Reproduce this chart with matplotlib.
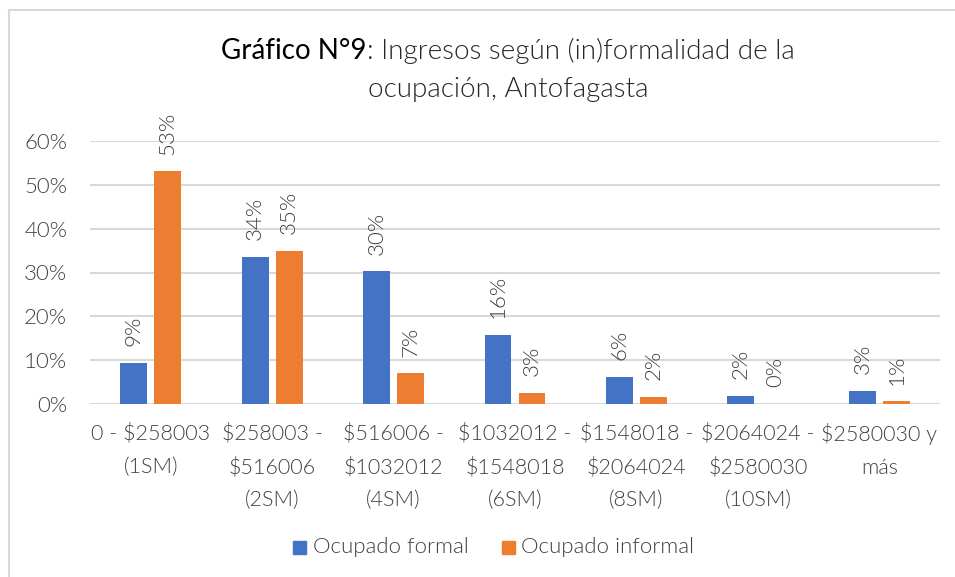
import matplotlib
matplotlib.use("Agg")
import matplotlib.pyplot as plt
import numpy as np
from matplotlib.lines import Line2D
from matplotlib.patches import Rectangle

categories = ["0 - $258003\n(1SM)", "$258003 -\n$516006\n(2SM)", "$516006 -\n$1032012\n(4SM)",
              "$1032012 -\n$1548018\n(6SM)", "$1548018 -\n$2064024\n(8SM)",
              "$2064024 -\n$2580030\n(10SM)", "$2580030 y\nmás"]
formal = [9.4, 33.6, 30.3, 15.8, 6.2, 1.8, 3.0]
informal = [53.1, 34.9, 7.0, 2.6, 1.7, 0.1, 0.6]
series_names = ["Ocupado formal", "Ocupado informal"]
yticks = [0, 10, 20, 30, 40, 50, 60]

BLUE = "#4472C4"
ORANGE = "#ED7D31"
GRID = "#D9D9D9"
TXT = "#404040"
FONT = "Lato"
FS = 16
XFS = 15.5
LW = 300

plt.rcParams['font.family'] = [FONT, 'DejaVu Sans']

W, H = 955, 577
fig = plt.figure(figsize=(W/100, H/100), dpi=100)
ax = fig.add_axes([90/W, 1-404/H, 850/W, 263/H])

x = np.arange(len(categories))
bw = 0.222
off = 0.14
b1 = ax.bar(x - off, formal, bw, color=BLUE, zorder=3)
b2 = ax.bar(x + off, informal, bw, color=ORANGE, zorder=3)

for bars, vals in ((b1, formal), (b2, informal)):
    for rect, v in zip(bars, vals):
        ax.annotate(f"{v:.0f}%", (rect.get_x() + rect.get_width()/2, v),
                    xytext=(0, 12), textcoords="offset points", rotation=90,
                    ha="center", va="bottom", fontsize=FS, color=TXT,
                    fontweight=LW)

ax.set_xlim(-0.5, len(categories) - 0.5)
ax.set_ylim(0, 60)
ax.set_yticks(yticks)
ax.set_yticklabels([f"{t}%" for t in yticks])
ax.set_xticks(x)
ax.set_xticklabels(categories, linespacing=1.8)
ax.tick_params(axis="both", length=0, labelsize=FS, labelcolor=TXT)
ax.tick_params(axis="x", labelsize=XFS, pad=14)
ax.tick_params(axis="y", pad=16.5)
for lab in ax.get_xticklabels() + ax.get_yticklabels():
    lab.set_fontweight(LW)
ax.grid(axis="y", color=GRID, linewidth=1.5, zorder=0)
for s in ax.spines.values():
    s.set_visible(False)
ax.set_axisbelow(True)

# outer chart border (top and left visible)
fig.add_artist(Line2D([8.5/W, 8.5/W], [0, 1-10/H], color=GRID, lw=1.5, transform=fig.transFigure))
fig.add_artist(Line2D([8.5/W, 1], [1-10/H, 1-10/H], color=GRID, lw=1.5, transform=fig.transFigure))

# title with mixed styles
renderer = fig.canvas.get_renderer()
TFS = 20
p1 = fig.text(0, 1-51/H, "Gráfico N°9", fontsize=TFS, color="black", va="center", ha="left")
p2 = fig.text(0, 1-51/H, ": Ingresos según (in)formalidad de la", fontsize=TFS, color="#262626",
              fontweight=LW, va="center", ha="left")
w1 = p1.get_window_extent(renderer).width
w2 = p2.get_window_extent(renderer).width
start = 508 - (w1 + w2) / 2
p1.set_x(start / W)
p2.set_x((start + w1) / W)
fig.text(508/W, 1-89/H, "ocupación, Antofagasta", fontsize=TFS, color="#262626",
         fontweight=LW, va="center", ha="center")

# legend
ly = 1 - 547/H
leg_items = [(293, 313, BLUE, series_names[0]), (502, 521, ORANGE, series_names[1])]
for sx, tx, col, name in leg_items:
    fig.add_artist(Rectangle((sx/W, ly - 6.5/H), 13/W, 13/H, color=col, transform=fig.transFigure))
    fig.text(tx/W, ly, name, fontsize=FS, color=TXT, fontweight=LW, va="center", ha="left")

fig.savefig("out.png", dpi=100)
